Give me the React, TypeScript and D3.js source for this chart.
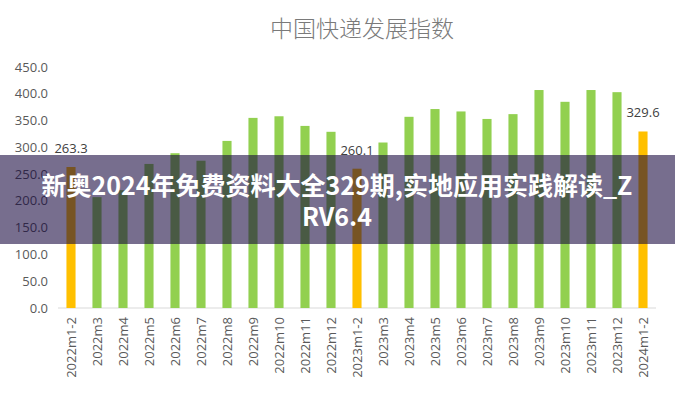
import React from "react";
import * as d3 from "d3";

const categories = [
  "2022m1-2", "2022m3", "2022m4", "2022m5", "2022m6", "2022m7", "2022m8", "2022m9",
  "2022m10", "2022m11", "2022m12", "2023m1-2", "2023m3", "2023m4", "2023m5", "2023m6",
  "2023m7", "2023m8", "2023m9", "2023m10", "2023m11", "2023m12", "2024m1-2",
];
const values = [
  263.3, 207, 220, 269, 289, 275, 312, 355,
  358, 340, 329, 260.1, 309, 357, 371.5, 367,
  353, 362, 407, 385, 407, 403, 329.6,
];
const highlighted = ["2022m1-2", "2023m1-2", "2024m1-2"];
const yTicks = [0, 50, 100, 150, 200, 250, 300, 350, 400, 450];
const title = "中国快递发展指数";
const bannerLines = ["新奥2024年免费资料大全329期,实地应用实践解读_Z", "RV6.4"];

export default function App() {
  const W = 675, H = 400;
  const x = d3.scaleBand<string>().domain(categories).range([58, 656]).paddingInner(0.65).paddingOuter(0.325);
  const y = d3.scaleLinear().domain([0, 450]).range([308, 67]);
  const fmt = d3.format(".1f");
  const bw = x.bandwidth();
  return (
    <svg width={W} height={H} style={{ position: "absolute", left: 0, top: 0, background: "#fff" }}>
      <rect width={W} height={H} fill="#fff" />
      <text x={362} y={37} textAnchor="middle" fontSize={23} fill="#7a7a7a"
        fontFamily="'Noto Sans CJK SC', sans-serif" fontWeight={300}>{title}</text>
      {yTicks.map((t) => (
        <text key={t} x={48} y={y(t)} dy="0.35em" textAnchor="end" fontSize={13}
          fill="#595959" fontFamily="'Open Sans', sans-serif">{fmt(t)}</text>
      ))}
      <line x1={58} x2={656} y1={y(0)} y2={y(0)} stroke="#d9d9d9" strokeWidth={1} />
      {categories.map((c, i) => {
        const hi = highlighted.includes(c);
        const bx = x(c)!;
        return (
          <g key={c}>
            <rect x={bx} y={y(values[i])} width={bw} height={y(0) - y(values[i])}
              fill={hi ? "#ffc000" : "#92d050"} />
            {hi && (
              <text x={bx + bw / 2} y={y(values[i]) - 14} textAnchor="middle" fontSize={13}
                fill="#404040" fontFamily="'Open Sans', sans-serif">{fmt(values[i])}</text>
            )}
            <text transform={`translate(${bx + bw / 2},${y(0) + 9}) rotate(-90)`} dy="0.35em"
              textAnchor="end" fontSize={13} fill="#595959"
              fontFamily="'Open Sans', sans-serif">{c}</text>
          </g>
        );
      })}
      <rect x={0} y={155} width={W} height={89} fill="rgba(20,5,60,0.58)" />
      {bannerLines.map((l, i) => (
        <text key={i} x={337} y={195 + i * 31} textAnchor="middle" fontSize={25} fontWeight={700}
          fill="#fff" fontFamily="'Noto Sans CJK SC', sans-serif">{l}</text>
      ))}
    </svg>
  );
}
